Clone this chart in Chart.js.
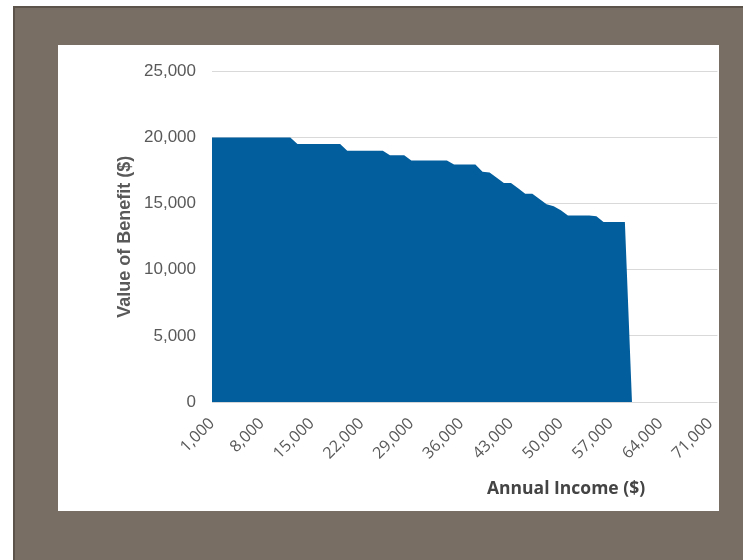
<!DOCTYPE html>
<html>
<head>
<meta charset="utf-8">
<script src="https://cdn.jsdelivr.net/npm/chart.js@4.4.1/dist/chart.umd.min.js"></script>
<style>
  html, body { margin: 0; padding: 0; background: #ffffff; }
  body { width: 743px; height: 560px; position: relative; overflow: hidden; }
  #frame {
    position: absolute; left: 13px; top: 6px; width: 730px; height: 554px;
    background: #786e64; border-left: 2px solid #5c534b; border-top: 2px solid #5c534b;
    box-sizing: border-box;
  }
  #panel {
    position: absolute; left: 58px; top: 45px; width: 661px; height: 466px;
    background: #ffffff; overflow: hidden;
  }
  #xTitle {
    position: absolute; left: 429px; top: 430px;
    font: bold 17.5px "Open Sans", sans-serif; color: #444444; white-space: nowrap;
  }
</style>
</head>
<body>
<div id="frame"></div>
<div id="panel">
  <canvas id="benefitChart" width="677" height="466"></canvas>
  <div id="xTitle">Annual Income ($)</div>
</div>
<script>
// Annual income categories ($)
const incomes = [
  1000, 2000, 3000, 4000, 5000, 6000, 7000, 8000, 9000, 10000, 11000, 12000,
  13000, 14000, 15000, 16000, 17000, 18000, 19000, 20000, 21000, 22000, 23000, 24000,
  25000, 26000, 27000, 28000, 29000, 30000, 31000, 32000, 33000, 34000, 35000, 36000,
  37000, 38000, 39000, 40000, 41000, 42000, 43000, 44000, 45000, 46000, 47000, 48000,
  49000, 50000, 51000, 52000, 53000, 54000, 55000, 56000, 57000, 58000, 59000, 60000,
  61000, 62000, 63000, 64000, 65000, 66000, 67000, 68000, 69000, 70000, 71000, 72000
];

// Value of benefit ($) at each income
const benefit = [
  20000, 20000, 20000, 20000, 20000, 20000, 20000, 20000, 20000, 20000, 20000, 20000,
  19500, 19500, 19500, 19500, 19500, 19500, 19500,
  19000, 19000, 19000, 19000, 19000, 19000,
  18650, 18650, 18650,
  18250, 18250, 18250, 18250, 18250, 18250,
  17950, 17950, 17950, 17950,
  17400, 17350,
  16950, 16550, 16550,
  16150, 15750, 15750,
  15350, 14950, 14800,
  14500, 14100, 14100, 14100, 14100, 14050,
  13600, 13600, 13600, 13600,
  0,
  null, null, null, null, null, null, null, null, null, null, null, null
];

const xTickLabels = ['1,000', '8,000', '15,000', '22,000', '29,000', '36,000',
                     '43,000', '50,000', '57,000', '64,000', '71,000'];
const yTicks = [0, 5000, 10000, 15000, 20000, 25000];

const fmt = v => Number(v).toLocaleString('en-US');

const ctx = document.getElementById('benefitChart').getContext('2d');
new Chart(ctx, {
    type: 'line',
    data: {
        labels: incomes,
        datasets: [{
            label: 'Value of Benefit',
            data: benefit,
            fill: 'origin',
            backgroundColor: '#035e9e',
            borderColor: '#035e9e',
            borderWidth: 0,
            pointRadius: 0,
            tension: 0
        }]
    },
    options: {
        responsive: false,
        animation: false,
        devicePixelRatio: 1,
        layout: { padding: { left: 56, top: 17, right: 0, bottom: 44 } },
        plugins: { legend: { display: false }, tooltip: { enabled: false } },
        scales: {
            x: {
                offset: false,
                grid: { display: false },
                border: { display: false },
                ticks: {
                    autoSkip: false,
                    minRotation: 45,
                    maxRotation: 45,
                    padding: 4,
                    color: '#595959',
                    font: { family: '"Open Sans", sans-serif', size: 16 },
                    callback: function (val, i) {
                        const s = fmt(incomes[i]);
                        return xTickLabels.includes(s) ? s : '';
                    }
                }
            },
            y: {
                min: yTicks[0],
                max: yTicks[yTicks.length - 1],
                afterBuildTicks: axis => { axis.ticks = yTicks.map(v => ({ value: v })); },
                afterFit: axis => { axis.width = 98; },
                grid: { color: '#d9d9d9', drawTicks: false },
                border: { display: false },
                ticks: {
                    padding: 16,
                    color: '#595959',
                    font: { family: '"Liberation Sans", Arial, sans-serif', size: 17 },
                    callback: v => fmt(v)
                },
                title: {
                    display: true,
                    text: 'Value of Benefit ($)',
                    color: '#595959',
                    padding: { top: 0, bottom: 6 },
                    font: { family: '"Liberation Sans", Arial, sans-serif', size: 18, weight: 'bold' }
                }
            }
        }
    }
});
</script>
</body>
</html>
